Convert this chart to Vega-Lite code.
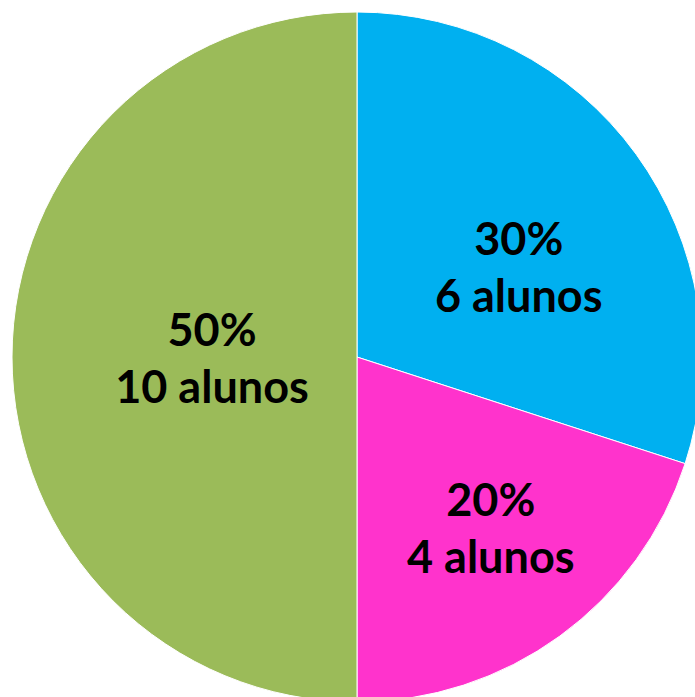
{
  "$schema": "https://vega.github.io/schema/vega-lite/v6.json",
  "width": 714,
  "height": 714,
  "autosize": {"type": "none"},
  "padding": 0,
  "background": "white",
  "config": {"view": {"stroke": null}},
  "data": {
    "values": [
      {"grupo": "A", "ordem": 1, "alunos": 6, "rotulo": "30%\n6 alunos"},
      {"grupo": "B", "ordem": 2, "alunos": 4, "rotulo": "20%\n4 alunos"},
      {"grupo": "C", "ordem": 3, "alunos": 10, "rotulo": "50%\n10 alunos"}
    ]
  },
  "encoding": {
    "theta": {"field": "alunos", "type": "quantitative", "stack": true},
    "order": {"field": "ordem", "type": "quantitative"}
  },
  "layer": [
    {
      "mark": {"type": "arc", "outerRadius": 345, "stroke": "white", "strokeWidth": 1},
      "encoding": {
        "color": {
          "field": "grupo",
          "type": "nominal",
          "scale": {"domain": ["A", "B", "C"], "range": ["#00B0F0", "#FF33CC", "#9BBB59"]},
          "legend": null
        }
      }
    },
    {
      "mark": {"type": "text", "radius": 190, "dx": 8, "dy": -4, "font": "Lato", "fontWeight": "bold", "fontSize": 45, "lineBreak": "\n", "lineHeight": 57, "align": "center", "baseline": "middle", "color": "black"},
      "encoding": {
        "text": {"condition": {"test": "datum.grupo === 'A'", "field": "rotulo"}, "value": ""}
      }
    },
    {
      "mark": {"type": "text", "radius": 214, "dx": 8, "dy": -28, "font": "Lato", "fontWeight": "bold", "fontSize": 45, "lineBreak": "\n", "lineHeight": 57, "align": "center", "baseline": "middle", "color": "black"},
      "encoding": {
        "text": {"condition": {"test": "datum.grupo === 'B'", "field": "rotulo"}, "value": ""}
      }
    },
    {
      "mark": {"type": "text", "radius": 145, "dy": -25, "font": "Lato", "fontWeight": "bold", "fontSize": 45, "lineBreak": "\n", "lineHeight": 57, "align": "center", "baseline": "middle", "color": "black"},
      "encoding": {
        "text": {"condition": {"test": "datum.grupo === 'C'", "field": "rotulo"}, "value": ""}
      }
    }
  ]
}
